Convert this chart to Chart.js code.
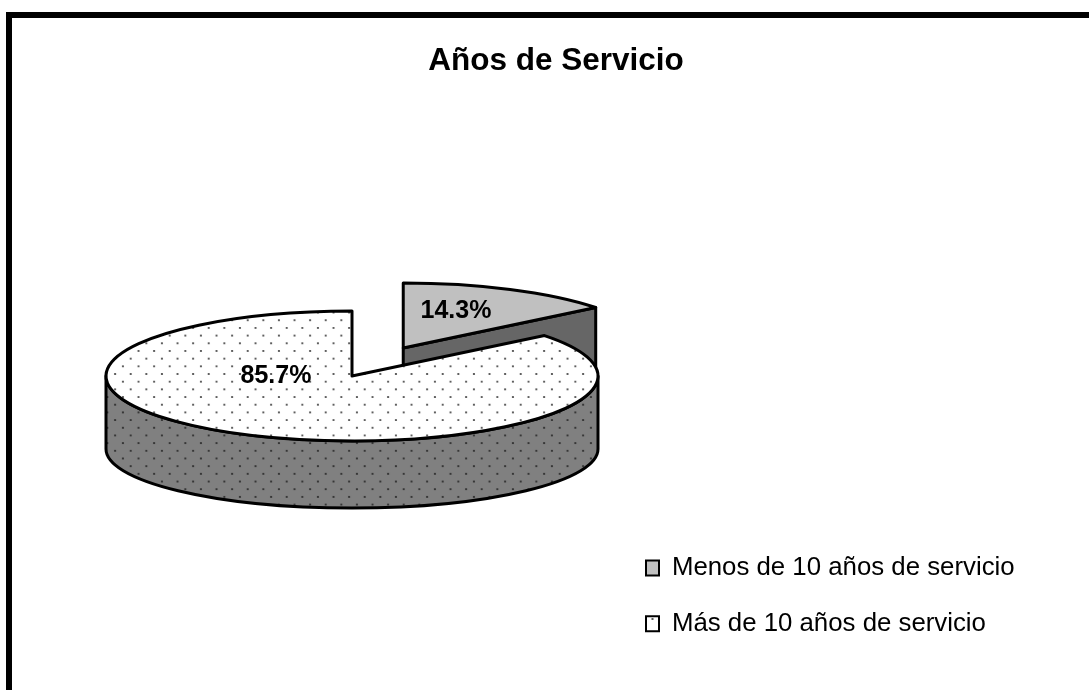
<!DOCTYPE html>
<html><head><meta charset="utf-8">
<style>html,body{margin:0;padding:0;background:#fff}canvas{display:block}</style>
<script src="https://cdn.jsdelivr.net/npm/chart.js@4/dist/chart.umd.min.js"></script>
</head><body><canvas id="c" width="1089" height="690"></canvas>
<script>
const categories = ['Menos de 10 años de servicio', 'Más de 10 años de servicio'];
const values = [14.3, 85.7];
const percentLabels = ['14.3%', '85.7%'];
const titleText = 'Años de Servicio';
const explode = [118, 0];

const FONT = '"Liberation Sans", Arial, sans-serif';
const SQUASH = 0.264, SQUASH_BOTTOM = 0.24, DEPTH = 73;
const CENTER = {x: 352, y: 376};
const LABEL_POS = [{x: 456, y: 311}, {x: 276, y: 376}];
const GRID = {tx: 2.975, ty: 2.46, sx: 0.975, sy: 0.96};

function dotTile(bg, dot) {
  const t = document.createElement('canvas'); t.width = t.height = 16;
  const g = t.getContext('2d');
  g.fillStyle = bg; g.fillRect(0, 0, 16, 16);
  g.fillStyle = dot;
  [[3, 3], [11, 11]].forEach(p => { g.beginPath(); g.arc(p[0], p[1], 1.1, 0, Math.PI * 2); g.fill(); });
  return t;
}
const ctx0 = document.getElementById('c').getContext('2d');
function pattern(bg, dot, m) {
  const p = ctx0.createPattern(dotTile(bg, dot), 'repeat');
  p.setTransform(m);
  return p;
}
const topPattern = pattern('#ffffff', '#3a3a3a', new DOMMatrix());
const wallPattern = pattern('#808080', '#262626', new DOMMatrix().translate(GRID.tx, GRID.ty).scale(GRID.sx, GRID.sy));
const legendPattern = pattern('#ffffff', '#333333', new DOMMatrix().translate(649.5, 616));

const frame = {
  id: 'frame',
  beforeDraw(c) {
    const g = c.ctx; g.save(); g.fillStyle = '#000';
    g.fillRect(6, 12, 1083, 6); g.fillRect(6, 12, 6, 678); g.restore();
  }
};

const pie3d = {
  id: 'pie3d',
  afterLayout(c) {
    const l = c.legend, w = l.width, h = l.height;
    l.left = 616; l.right = 616 + w; l.top = 525; l.bottom = 525 + h;
  },
  beforeDatasetDraw(c, args) {
    const g = c.ctx, arcs = c.getDatasetMeta(args.index).data;
    g.lineJoin = 'round';
    const outline = () => { g.lineWidth = 3; g.strokeStyle = '#000'; g.stroke(); };
    arcs.forEach((a, i) => {
      const mid = (a.startAngle + a.endAngle) / 2, off = explode[i];
      const ox = Math.cos(mid) * off, oy = Math.sin(mid) * off * SQUASH;
      const sx = CENTER.x + ox, sy = CENTER.y + oy;
      const rx = a.outerRadius, ry = rx * SQUASH, ry2 = rx * SQUASH_BOTTOM;
      // rim wall (front half)
      const from = Math.max(a.startAngle, 0), to = Math.min(a.endAngle, Math.PI);
      if (to > from) {
        g.beginPath();
        g.ellipse(sx, sy, rx, ry, 0, from, to);
        g.ellipse(sx, sy + DEPTH, rx, ry2, 0, to, from, true);
        g.closePath();
        g.fillStyle = wallPattern; g.fill(); outline();
      }
      // cut face turned to the viewer
      const e = a.endAngle;
      if (Math.sin(e) < 0 && Math.cos(e) > 0.001) {
        const px = sx + Math.cos(e) * rx, py = sy + Math.sin(e) * ry;
        g.beginPath();
        g.moveTo(sx, sy); g.lineTo(px, py); g.lineTo(px, py + DEPTH); g.lineTo(sx, sy + DEPTH); g.closePath();
        g.fillStyle = '#666666'; g.fill(); outline();
      }
      // top surface: the library's own arc, flattened
      topPattern.setTransform(new DOMMatrix()
        .translate(a.x, a.y).scale(1, 1 / SQUASH).translate(-CENTER.x, -CENTER.y)
        .translate(GRID.tx, GRID.ty).scale(GRID.sx, GRID.sy));
      g.save();
      g.translate(sx, sy); g.scale(1, SQUASH); g.translate(-a.x, -a.y);
      a.draw(g, c.chartArea);
      g.restore();
      g.beginPath();
      g.moveTo(sx, sy);
      g.ellipse(sx, sy, rx, ry, 0, a.startAngle, a.endAngle);
      g.closePath();
      outline();
    });
    return false;
  },
  afterDraw(c) {
    const g = c.ctx; g.save();
    g.font = 'bold 25px ' + FONT; g.fillStyle = '#000'; g.textAlign = 'center'; g.textBaseline = 'middle';
    percentLabels.forEach((t, i) => g.fillText(t, LABEL_POS[i].x, LABEL_POS[i].y));
    g.restore();
  }
};

new Chart(document.getElementById('c'), {
  type: 'pie',
  data: {
    labels: categories,
    datasets: [{
      data: values,
      backgroundColor: ['#c0c0c0', topPattern],
      borderWidth: 0,
      radius: 246
    }]
  },
  options: {
    responsive: false,
    animation: false,
    events: [],
    layout: {padding: {left: 23}},
    plugins: {
      tooltip: {enabled: false},
      title: {
        display: true, text: titleText, color: '#000',
        font: {family: FONT, size: 31.5, weight: 'bold'},
        padding: {top: 42, bottom: 10}
      },
      legend: {
        position: 'right',
        align: 'start',
        labels: {
          color: '#000',
          font: {family: FONT, size: 25.8},
          boxWidth: 13, boxHeight: 15, padding: 30,
          generateLabels(c) {
            const items = Chart.overrides.pie.plugins.legend.labels.generateLabels(c);
            items.forEach((it, i) => {
              it.fillStyle = i === 1 ? legendPattern : '#c0c0c0';
              it.strokeStyle = '#000'; it.lineWidth = 2;
            });
            return items;
          }
        }
      }
    }
  },
  plugins: [frame, pie3d]
});
</script></body></html>
